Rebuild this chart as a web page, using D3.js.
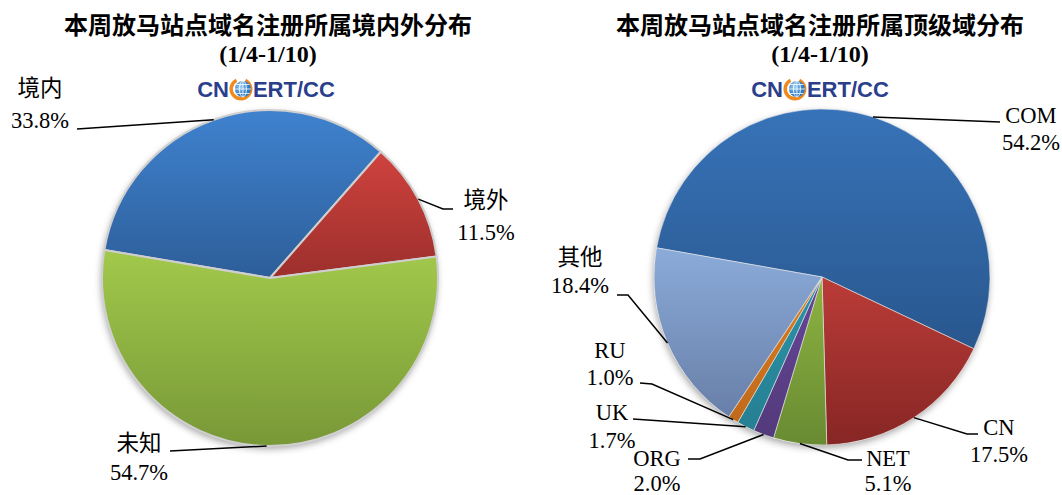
<!DOCTYPE html>
<html>
<head>
<meta charset="utf-8">
<script src="https://cdn.jsdelivr.net/npm/d3@7"></script>
<style>
  html, body { margin: 0; padding: 0; background: #fff; }
  svg { display: block; }
</style>
</head>
<body>
<svg id="chart" width="1062" height="495"></svg>
<script>
// ---------- data ----------
const leftTitle = "本周放马站点域名注册所属境内外分布";
const rightTitle = "本周放马站点域名注册所属顶级域分布";
const dateRange = "(1/4-1/10)";
const leftCategories = ["境内", "境外", "未知"];
const leftValues = [33.8, 11.5, 54.7];
const rightCategories = ["COM", "CN", "NET", "ORG", "UK", "RU", "其他"];
const rightValues = [54.2, 17.5, 5.1, 2.0, 1.7, 1.0, 18.4];

// ---------- styles ----------
const leftTop = ["#3f82cf", "#cf423e", "#a2c94b"];
const leftBottom = ["#2d5e99", "#9c2f2c", "#789837"];
const rightTop = ["#3773b8", "#bb3c38", "#8db442", "#65479a", "#2c93a8", "#dc7e22", "#8babd9"];
const rightBottom = ["#29578e", "#862624", "#698a32", "#533a7a", "#267f92", "#c0691a", "#687fa8"];

// label layout: text centre x, first line y, second line y, leader polyline (after edge point)
const leftLayout = [
  { x: 40, y1: 88, y2: 120, pts: [[77, 129]] },
  { x: 486, y1: 200, y2: 232, pts: [[443, 209], [453, 209]] },
  { x: 139, y1: 443, y2: 472, pts: [[170, 451]] }
];
const rightLayout = [
  { x: 1031, y1: 115, y2: 142, pts: [[1000, 122]] },
  { x: 999, y1: 427, y2: 454, pts: [[967, 434], [978, 434]] },
  { x: 888, y1: 458, y2: 483, pts: [[848, 460], [862, 460]] },
  { x: 657, y1: 458, y2: 483, pts: [[700, 459], [688, 459]] },
  { x: 612, y1: 412, y2: 440, pts: [[633, 419]] },
  { x: 610, y1: 350, y2: 377, pts: [[652, 384], [640, 383]] },
  { x: 580, y1: 257, y2: 285, pts: [[628, 295], [617, 295]] }
];

const svg = d3.select("#chart");
const defs = svg.append("defs");

const f = defs.append("filter").attr("id", "shadow")
  .attr("x", "-20%").attr("y", "-20%").attr("width", "140%").attr("height", "140%");
f.append("feDropShadow").attr("dx", -1).attr("dy", 3).attr("stdDeviation", 3.5)
  .attr("flood-color", "#000").attr("flood-opacity", 0.35);

const fmt = d3.format(".1f");
const labelFont = "'Liberation Serif','Times New Roman','Noto Sans CJK SC',serif";

function drawTitle(cx, title) {
  svg.append("text").attr("x", cx).attr("y", 23)
    .attr("text-anchor", "middle").attr("dominant-baseline", "central")
    .attr("font-family", "'Noto Sans CJK SC','Noto Sans',sans-serif")
    .attr("font-weight", 700).attr("font-size", 24).attr("fill", "#000")
    .text(title);
  svg.append("text").attr("x", cx).attr("y", 54)
    .attr("text-anchor", "middle").attr("dominant-baseline", "central")
    .attr("font-family", "'Liberation Serif','Times New Roman',serif")
    .attr("font-weight", 700).attr("font-size", 24).attr("fill", "#000")
    .text(dateRange);
}

function drawLogo(cx, cy, id) {
  const g = svg.append("g");
  const fontAttrs = t => t.attr("font-family", "'Liberation Sans',Arial,sans-serif")
    .attr("font-weight", 700).attr("font-size", 22).attr("fill", "#2b3e8c")
    .attr("dominant-baseline", "central");
  const t1 = fontAttrs(g.append("text").attr("x", 0).attr("y", cy + 1).text("CN"));
  const t2 = fontAttrs(g.append("text").attr("x", 0).attr("y", cy + 1).text("ERT/CC"));
  const w1 = t1.node().getComputedTextLength();
  const w2 = t2.node().getComputedTextLength();
  const iconW = 24;
  const total = w1 + iconW + w2;
  const x0 = cx - total / 2;
  t1.attr("x", x0);
  t2.attr("x", x0 + w1 + iconW);
  const ix = x0 + w1 + iconW / 2, iy = cy + 1;
  const ring = d3.arc().innerRadius(8).outerRadius(11.5)
    .startAngle(Math.PI * 0.15).endAngle(Math.PI * 1.85);
  g.append("path").attr("d", ring()).attr("transform", `translate(${ix},${iy})`).attr("fill", "#f08a1c");
  const gr = defs.append("radialGradient").attr("id", "globe" + id).attr("cx", "35%").attr("cy", "35%");
  gr.append("stop").attr("offset", "0%").attr("stop-color", "#9fd0f5");
  gr.append("stop").attr("offset", "100%").attr("stop-color", "#2d7cc8");
  g.append("circle").attr("cx", ix + 2).attr("cy", iy).attr("r", 8).attr("fill", `url(#globe${id})`);
  const gl = g.append("g").attr("fill", "none").attr("stroke", "#fff").attr("stroke-width", 0.8);
  gl.append("ellipse").attr("cx", ix + 2).attr("cy", iy).attr("rx", 3.5).attr("ry", 8);
  gl.append("line").attr("x1", ix + 2).attr("x2", ix + 2).attr("y1", iy - 8).attr("y2", iy + 8);
  gl.append("line").attr("x1", ix - 6).attr("x2", ix + 10).attr("y1", iy).attr("y2", iy);
  gl.append("line").attr("x1", ix - 4.5).attr("x2", ix + 8.5).attr("y1", iy - 4.5).attr("y2", iy - 4.5);
  gl.append("line").attr("x1", ix - 4.5).attr("x2", ix + 8.5).attr("y1", iy + 4.5).attr("y2", iy + 4.5);
}

function drawPie(opts) {
  const { cx, cy, r, startDeg, cats, vals, top, bottom, layout, id, sepColor, sepWidth } = opts;
  const start = startDeg * Math.PI / 180;
  const pie = d3.pie().sort(null).value(d => d.v).startAngle(start).endAngle(start + 2 * Math.PI);
  const data = cats.map((c, i) => ({ c, v: vals[i], i }));
  const arcs = pie(data);
  const arc = d3.arc().innerRadius(0).outerRadius(r);

  arcs.forEach((a, i) => {
    const lg = defs.append("linearGradient").attr("id", `${id}g${i}`)
      .attr("x1", 0).attr("y1", 0).attr("x2", 0).attr("y2", 1);
    lg.append("stop").attr("offset", "0%").attr("stop-color", top[i]);
    lg.append("stop").attr("offset", "100%").attr("stop-color", bottom[i]);
  });

  const g = svg.append("g").attr("transform", `translate(${cx},${cy})`);
  g.append("circle").attr("r", r).attr("fill", "#fff").attr("filter", "url(#shadow)");
  g.selectAll("path.slice").data(arcs).join("path")
    .attr("class", "slice")
    .attr("d", arc)
    .attr("fill", (d, i) => `url(#${id}g${i})`)
    .attr("stroke", sepColor).attr("stroke-width", sepWidth).attr("stroke-linejoin", "round");

  arcs.forEach((a, i) => {
    const L = layout[i];
    const m = (a.startAngle + a.endAngle) / 2;
    const p0 = [cx + r * Math.sin(m), cy - r * Math.cos(m)];
    const pts = [p0, ...L.pts];
    svg.append("path").attr("d", d3.line()(pts))
      .attr("fill", "none").attr("stroke", "#000").attr("stroke-width", 1.5);
    const t = svg.append("text").attr("text-anchor", "middle")
      .attr("font-family", labelFont).attr("font-size", 22.5).attr("fill", "#000")
      .attr("dominant-baseline", "central");
    t.append("tspan").attr("x", L.x).attr("y", L.y1).text(a.data.c);
    t.append("tspan").attr("x", L.x).attr("y", L.y2).text(fmt(a.data.v) + "%");
  });
}

drawTitle(268, leftTitle);
drawTitle(820, rightTitle);
drawLogo(266, 88, "L");
drawLogo(820, 88, "R");

drawPie({ cx: 270, cy: 278, r: 168, startDeg: -80.4, cats: leftCategories, vals: leftValues,
  top: leftTop, bottom: leftBottom, layout: leftLayout, id: "L", sepColor: "#cfcfcf", sepWidth: 2 });
drawPie({ cx: 822, cy: 277, r: 168, startDeg: -80, cats: rightCategories, vals: rightValues,
  top: rightTop, bottom: rightBottom, layout: rightLayout, id: "R", sepColor: "#e8e8e8", sepWidth: 0.6 });
</script>
</body>
</html>
